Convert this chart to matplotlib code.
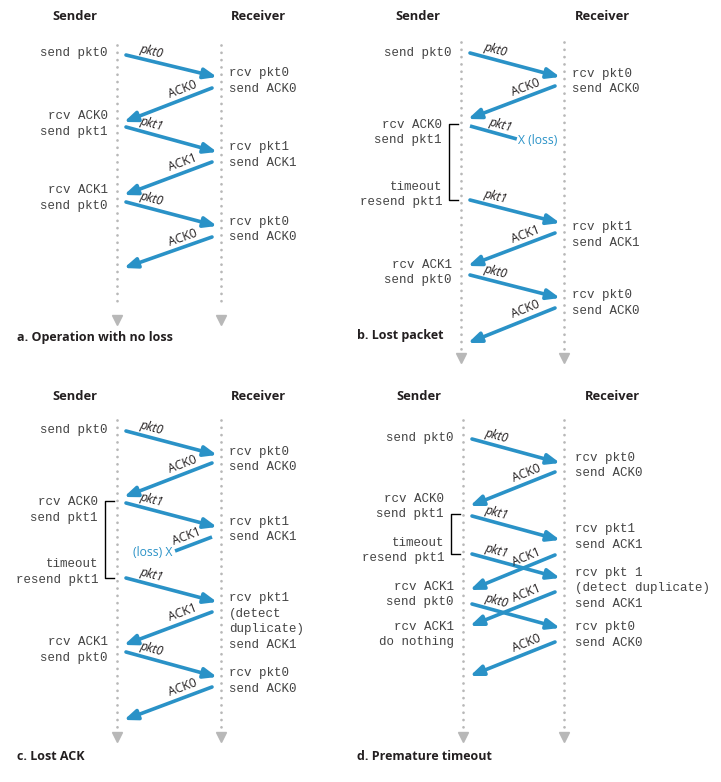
import math
import matplotlib
matplotlib.use("Agg")
import matplotlib.pyplot as plt

# ------------------------------------------------------------------ data
# times are measured downward along each panel's timeline

# a. Operation with no loss
a_msg_labels = ["pkt0", "ACK0", "pkt1", "ACK1", "pkt0", "ACK0"]
a_msg_from = ["S", "R", "S", "R", "S", "R"]
a_msg_send = [10, 43, 82, 117, 157, 192]
a_msg_arrive = [32, 77, 107, 150, 181, 223]
a_msg_reach = [1.0, 1.0, 1.0, 1.0, 1.0, 1.0]
a_sender_notes = ["send pkt0", "rcv ACK0\nsend pkt1", "rcv ACK1\nsend pkt0"]
a_sender_times = [8, 71, 145]
a_receiver_notes = ["rcv pkt0\nsend ACK0", "rcv pkt1\nsend ACK1", "rcv pkt0\nsend ACK0"]
a_receiver_times = [28, 102, 177]
a_timers = []

# b. Lost packet
b_msg_labels = ["pkt0", "ACK0", "pkt1", "pkt1", "ACK1", "pkt0", "ACK0"]
b_msg_from = ["S", "R", "S", "S", "R", "S", "R"]
b_msg_send = [11, 44, 84, 158, 191, 233, 266]
b_msg_arrive = [35, 77, 97, 181, 224, 256, 301]
b_msg_reach = [1.0, 1.0, 0.52, 1.0, 1.0, 1.0, 1.0]
b_sender_notes = ["send pkt0", "rcv ACK0\nsend pkt1", "timeout\nresend pkt1", "rcv ACK1\nsend pkt0"]
b_sender_times = [11, 83, 145, 223]
b_receiver_notes = ["rcv pkt0\nsend ACK0", "rcv pkt1\nsend ACK1", "rcv pkt0\nsend ACK0"]
b_receiver_times = [32, 185, 253]
b_timers = [(84, 158)]

# c. Lost ACK
c_msg_labels = ["pkt0", "ACK0", "pkt1", "ACK1", "pkt1", "ACK1", "pkt0", "ACK0"]
c_msg_from = ["S", "R", "S", "R", "S", "R", "S", "R"]
c_msg_send = [11, 43, 83, 117, 158, 192, 232, 267]
c_msg_arrive = [35, 77, 107, 131, 182, 225, 257, 300]
c_msg_reach = [1.0, 1.0, 1.0, 0.42, 1.0, 1.0, 1.0, 1.0]
c_sender_notes = ["send pkt0", "rcv ACK0\nsend pkt1", "timeout\nresend pkt1", "rcv ACK1\nsend pkt0"]
c_sender_times = [10, 82, 144, 222]
c_receiver_notes = ["rcv pkt0\nsend ACK0", "rcv pkt1\nsend ACK1",
                    "rcv pkt1\n(detect\nduplicate)\nsend ACK1", "rcv pkt0\nsend ACK0"]
c_receiver_times = [32, 102, 178, 253]
c_timers = [(83, 158)]

# d. Premature timeout
d_msg_labels = ["pkt0", "ACK0", "pkt1", "pkt1", "ACK1", "ACK1", "pkt0", "ACK0"]
d_msg_from = ["S", "R", "S", "S", "R", "R", "S", "R"]
d_msg_send = [19, 52, 96, 134, 135, 172, 184, 222]
d_msg_arrive = [43, 86, 120, 158, 170, 206, 208, 256]
d_msg_reach = [1.0, 1.0, 1.0, 1.0, 1.0, 1.0, 1.0, 1.0]
d_sender_notes = ["send pkt0", "rcv ACK0\nsend pkt1", "timeout\nresend pkt1",
                  "rcv ACK1\nsend pkt0", "rcv ACK1\ndo nothing"]
d_sender_times = [18, 79, 123, 167, 207]
d_receiver_notes = ["rcv pkt0\nsend ACK0", "rcv pkt1\nsend ACK1",
                    "rcv pkt 1\n(detect duplicate)\nsend ACK1", "rcv pkt0\nsend ACK0"]
d_receiver_times = [38, 109, 153, 207]
d_timers = [(96, 134)]

captions = ["a. Operation with no loss", "b. Lost packet", "c. Lost ACK", "d. Premature timeout"]

# ------------------------------------------------------------------ layout / style
BLUE = "#2a92c7"
GRAY = "#b8b8b8"
TXT = "#444444"
DARK = "#231f20"
MONO = "Liberation Mono"
SANS = "Open Sans"
LINE_H = 15.5

panels = [
    dict(sx=117, rx=221, top=45, dots_end=306, tri=320, title_y=17,
         s_title_x=75, r_title_x=258, cap=(17, 337), r_text=229, s_text=108,
         data=(a_msg_labels, a_msg_from, a_msg_send, a_msg_arrive, a_msg_reach,
               a_sender_notes, a_sender_times, a_receiver_notes, a_receiver_times, a_timers)),
    dict(sx=461, rx=564, top=42, dots_end=351, tri=358, title_y=17,
         s_title_x=418, r_title_x=602, cap=(357, 335), r_text=572, s_text=452,
         data=(b_msg_labels, b_msg_from, b_msg_send, b_msg_arrive, b_msg_reach,
               b_sender_notes, b_sender_times, b_receiver_notes, b_receiver_times, b_timers)),
    dict(sx=117, rx=221, top=420, dots_end=730, tri=737, title_y=396,
         s_title_x=75, r_title_x=258, cap=(17, 757), r_text=229, s_text=108,
         data=(c_msg_labels, c_msg_from, c_msg_send, c_msg_arrive, c_msg_reach,
               c_sender_notes, c_sender_times, c_receiver_notes, c_receiver_times, c_timers)),
    dict(sx=463, rx=564, top=420, dots_end=730, tri=737, title_y=396,
         s_title_x=419, r_title_x=612, cap=(357, 757), r_text=575, s_text=454,
         data=(d_msg_labels, d_msg_from, d_msg_send, d_msg_arrive, d_msg_reach,
               d_sender_notes, d_sender_times, d_receiver_notes, d_receiver_times, d_timers)),
]

fig = plt.figure(figsize=(7.21, 7.82), dpi=100)
ax = fig.add_axes([0, 0, 1, 1])
ax.set_xlim(0, 721)
ax.set_ylim(782, 0)
ax.axis("off")


def draw_panel(p, caption):
    (labels, frm, t_send, t_arr, reach, s_notes, s_times, r_notes, r_times, timers) = p["data"]
    sx, rx, top = p["sx"], p["rx"], p["top"]

    # timelines (dotted)
    for x in (sx, rx):
        ax.plot([x, x], [top, p["dots_end"]], color=GRAY, lw=2.0,
                dashes=(0.01, 2.62), dash_capstyle="round")
        ax.plot([x], [p["tri"]], marker="v", markersize=7, color=GRAY, mec=GRAY)

    # titles and caption
    ax.text(p["s_title_x"], p["title_y"], "Sender", ha="center", va="center",
            family=SANS, fontweight="bold", fontsize=9.3, color=DARK)
    ax.text(p["r_title_x"], p["title_y"], "Receiver", ha="center", va="center",
            family=SANS, fontweight="bold", fontsize=9.3, color=DARK)
    ax.text(p["cap"][0], p["cap"][1], caption, ha="left", va="center",
            family=SANS, fontweight="bold", fontsize=9, color=DARK)

    # messages
    for lab, f, ts, ta, rc in zip(labels, frm, t_send, t_arr, reach):
        if f == "S":
            x0, x1full = sx + 9, rx - 4
        else:
            x0, x1full = rx - 9, sx + 7
        x1 = x0 + (x1full - x0) * rc
        y0, y1 = top + ts, top + ta
        lost = rc < 1.0
        if lost:
            ax.plot([x0, x1], [y0, y1], color=BLUE, lw=2.6, solid_capstyle="butt")
        else:
            ax.annotate("", xy=(x1, y1), xytext=(x0, y0),
                        arrowprops=dict(arrowstyle="-|>,head_length=0.55,head_width=0.22",
                                        color=BLUE, lw=2.6, mutation_scale=14,
                                        shrinkA=0, shrinkB=0))
        # label
        dx, dy = x1 - x0, y1 - y0
        ang = math.degrees(math.atan2(-dy, dx))
        if ang > 90:
            ang -= 180
        elif ang < -90:
            ang += 180
        frac = 0.6 if lost else (0.25 if lab.startswith("pkt") else 0.3)
        px, py = x0 + dx * frac, y0 + dy * frac
        a = math.radians(ang)
        off = 9.5
        px += -math.sin(a) * off
        py -= math.cos(a) * off
        ax.text(px, py, lab, ha="center", va="center", rotation=ang,
                rotation_mode="anchor", family=SANS,
                style="italic" if lab.startswith("pkt") else "normal",
                fontsize=8.7, color=DARK)
        if lost:
            if f == "S":
                ax.text(x1 + 1, y1 + 2, "X (loss)", ha="left", va="center",
                        family=SANS, fontsize=8.7, color=BLUE)
            else:
                ax.text(x1 - 3, y1 + 2, "(loss) X", ha="right", va="center",
                        family=SANS, fontsize=8.7, color=BLUE)

    # timers
    for (ta_, tb_) in timers:
        bx = sx - 12
        ax.plot([sx - 3, bx, bx, sx - 3], [top + ta_ - 2, top + ta_ - 2, top + tb_, top + tb_],
                color="black", lw=1.0)

    # sender notes
    for note, t in zip(s_notes, s_times):
        lines = note.split("\n")
        span = (t, t + LINE_H * (len(lines) - 1))
        near = any(span[1] >= a_ - 3 and span[0] <= b_ + 3 for a_, b_ in timers)
        xr = p["s_text"] - (10 if near else 0)
        for i, ln in enumerate(lines):
            ax.text(xr, top + t + i * LINE_H, ln, ha="right", va="center",
                    family=MONO, fontsize=9, color=TXT)

    # receiver notes
    for note, t in zip(r_notes, r_times):
        for i, ln in enumerate(note.split("\n")):
            ax.text(p["r_text"], top + t + i * LINE_H, ln, ha="left", va="center",
                    family=MONO, fontsize=9, color=TXT)


for p, cap in zip(panels, captions):
    draw_panel(p, cap)

fig.savefig("out.png", dpi=100)
